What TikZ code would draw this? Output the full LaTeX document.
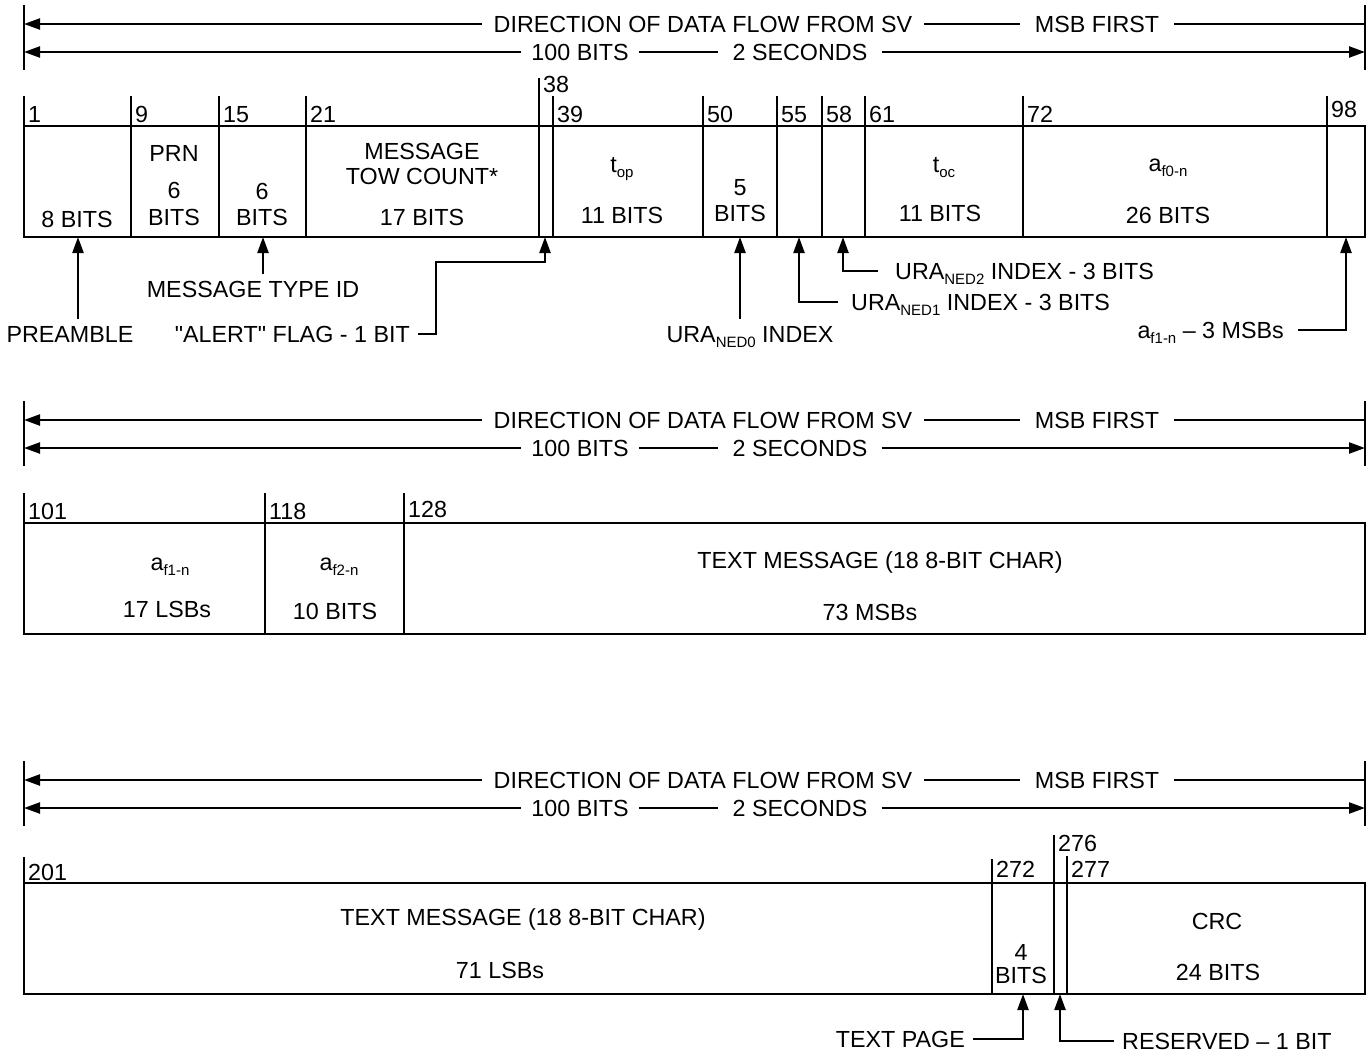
\documentclass[tikz,border=0pt]{standalone}
\usepackage{fontspec}
\setmainfont{Liberation Sans}[Ligatures=TeXOff]
\usetikzlibrary{arrows.meta}
\newcommand\subsc[1]{\raisebox{-5pt}{\fontsize{15}{15}\selectfont #1}}
\begin{document}
\begin{tikzpicture}[x=1pt,y=-1pt,
  font=\fontsize{23.3}{27}\selectfont,
  ln/.style={line width=2.3pt},
  arr/.style={line width=2.3pt,-{Triangle[length=16pt,width=11pt]}},
  dv/.style={line width=2pt},
  boxst/.style={line width=2.5pt},
  hd/.style={inner ysep=0pt,inner xsep=12pt,anchor=center},
  tx/.style={inner sep=0pt,anchor=base},
  txw/.style={inner sep=0pt,anchor=base west},
  txe/.style={inner sep=0pt,anchor=base east},
  tick/.style={inner sep=0pt,anchor=base west}]
\useasboundingbox (0,0) rectangle (1372,1055);

% ---------- headers ----------
\foreach \o/\s in {0/a,396/b,756/c}{
  \coordinate (lt\s) at (24,5+\o);  \coordinate (lb\s) at (24,70+\o);
  \coordinate (rt\s) at (1365,5+\o);\coordinate (rb\s) at (1365,70+\o);
  \draw[ln] (lt\s) -- (lb\s);
  \draw[ln] (rt\s) -- (rb\s);
  \coordinate (la\s) at (24,24+\o);  \coordinate (ra\s) at (1365,24+\o);
  \coordinate (lc\s) at (24,52+\o);  \coordinate (rc\s) at (1365,52+\o);
  \node[hd] (dir\s) at (703,24+\o) {DIRECTION OF DATA FLOW FROM SV};
  \node[hd,inner xsep=15pt] (msb\s) at (1097,24+\o) {MSB FIRST};
  \node[hd,inner xsep=10pt] (bit\s) at (580,52+\o) {100 BITS};
  \node[hd,inner xsep=14pt] (sec\s) at (800,52+\o) {2 SECONDS};
  \draw[arr] (dir\s.west) -- (la\s);
  \draw[ln] (dir\s.east) -- (msb\s.west);
  \draw[ln] (msb\s.east) -- (ra\s);
  \draw[arr] (bit\s.west) -- (lc\s);
  \draw[ln] (bit\s.east) -- (sec\s.west);
  \draw[arr] (sec\s.east) -- (rc\s);
}

% ---------- section 1 ----------
\node[draw,boxst,inner sep=0pt,minimum width=1341pt,minimum height=111pt] (box1) at (694.5,181.5) {};
\foreach \x in {131,219,306,539,553,703,777,822,865,1023,1327}
  \draw[dv] (\x,126) -- (\x,237);
\foreach \x/\t/\b/\l in {24/96/122/1,131/96/122/9,219/96/122/15,306/96/122/21,
  539/78/92/38,553/96/122/39,703/96/122/50,777/96/122/55,822/96/122/58,
  865/96/122/61,1023/96/122/72,1327/96/117/98}{
  \draw[dv] (\x,\t) -- (\x,126);
  \node[tick] at (\x+4,\b) {\l};
}
\node[tx] at (77,227) {8 BITS};
\node[tx] at (174,161) {PRN};
\node[tx] at (174,198) {6};
\node[tx] at (174,225) {BITS};
\node[tx] at (262,199) {6};
\node[tx] at (262,225) {BITS};
\node[tx] at (422,159) {MESSAGE};
\node[tx] at (422,184) {TOW COUNT*};
\node[tx] at (422,225) {17 BITS};
\node[tx] at (622,172) {t\subsc{op}};
\node[tx] at (622,223) {11 BITS};
\node[tx] at (740,195) {5};
\node[tx] at (740,221) {BITS};
\node[tx] at (944,172) {t\subsc{oc}};
\node[tx] at (940,221) {11 BITS};
\node[tx] at (1168,171) {a\subsc{f0-n}};
\node[tx] at (1168,223) {26 BITS};

% pointers section 1
\coordinate (preT) at (78,237);
\coordinate (mtT) at (263,237);
\coordinate (alT) at (545,237);
\coordinate (n0T) at (740,237);
\coordinate (n1T) at (799,237);
\coordinate (n2T) at (843,237);
\coordinate (afT) at (1346,237);
\node[tx] (pre) at (70,342) {PREAMBLE};
\node[tx] (mti) at (253,297) {MESSAGE TYPE ID};
\node[txe] (alert) at (410,342) {"ALERT" FLAG - 1 BIT};
\node[tx] (ned0) at (750,342) {URA\subsc{NED0} INDEX};
\node[txw] (ned1) at (851,310) {URA\subsc{NED1} INDEX - 3 BITS};
\node[txw] (ned2) at (895,279) {URA\subsc{NED2} INDEX - 3 BITS};
\node[txe] (af1) at (1284,338) {a\subsc{f1-n} – 3 MSBs};
\draw[arr] ([yshift=7pt]pre.north -| preT) -- (preT);
\draw[arr] ([yshift=7pt]mti.north -| mtT) -- (mtT);
\draw[arr] ([xshift=8pt,yshift=8pt]alert.base east) -| (436,262) -| (alT);
\draw[arr] ([yshift=7pt]ned0.north -| n0T) -- (n0T);
\draw[arr] ([xshift=-13pt,yshift=8pt]ned1.base west) -| (n1T);
\draw[arr] ([xshift=-17pt,yshift=8pt]ned2.base west) -| (n2T);
\draw[arr] ([xshift=14pt,yshift=8pt]af1.base east) -| (afT);

% ---------- section 2 ----------
\node[draw,boxst,inner sep=0pt,minimum width=1341pt,minimum height=111pt] (box2) at (694.5,578.5) {};
\foreach \x in {265,404}
  \draw[dv] (\x,523) -- (\x,634);
\foreach \x/\t/\b/\l in {24/493/519/101,265/493/519/118,404/493/517/128}{
  \draw[dv] (\x,\t) -- (\x,523);
  \node[tick] at (\x+4,\b) {\l};
}
\node[tx] at (170,570) {a\subsc{f1-n}};
\node[tx] at (167,617) {17 LSBs};
\node[tx] at (339,570) {a\subsc{f2-n}};
\node[tx] at (335,619) {10 BITS};
\node[tx] at (880,568) {TEXT MESSAGE (18 8-BIT CHAR)};
\node[tx] at (870,620) {73 MSBs};

% ---------- section 3 ----------
\node[draw,boxst,inner sep=0pt,minimum width=1341pt,minimum height=111pt] (box3) at (694.5,938.5) {};
\foreach \x in {992,1054,1067}
  \draw[dv] (\x,883) -- (\x,994);
\foreach \x/\t/\b/\l in {24/857/880/201,992/859/877/272,1054/835/851/276,1067/856/877/277}{
  \draw[dv] (\x,\t) -- (\x,883);
  \node[tick] at (\x+4,\b) {\l};
}
\node[tx] at (523,925) {TEXT MESSAGE (18 8-BIT CHAR)};
\node[tx] at (500,978) {71 LSBs};
\node[tx] at (1021,960) {4};
\node[tx] at (1021,983) {BITS};
\node[tx] at (1217,929) {CRC};
\node[tx] at (1218,980) {24 BITS};

\coordinate (tpT) at (1023,994);
\coordinate (rsT) at (1060,994);
\node[txe] (tp) at (965,1047) {TEXT PAGE};
\node[txw] (res) at (1122,1049) {RESERVED – 1 BIT};
\draw[arr] ([xshift=8pt,yshift=8pt]tp.base east) -| (tpT);
\draw[arr] ([xshift=-8pt,yshift=8pt]res.base west) -| (rsT);
\end{tikzpicture}
\end{document}
